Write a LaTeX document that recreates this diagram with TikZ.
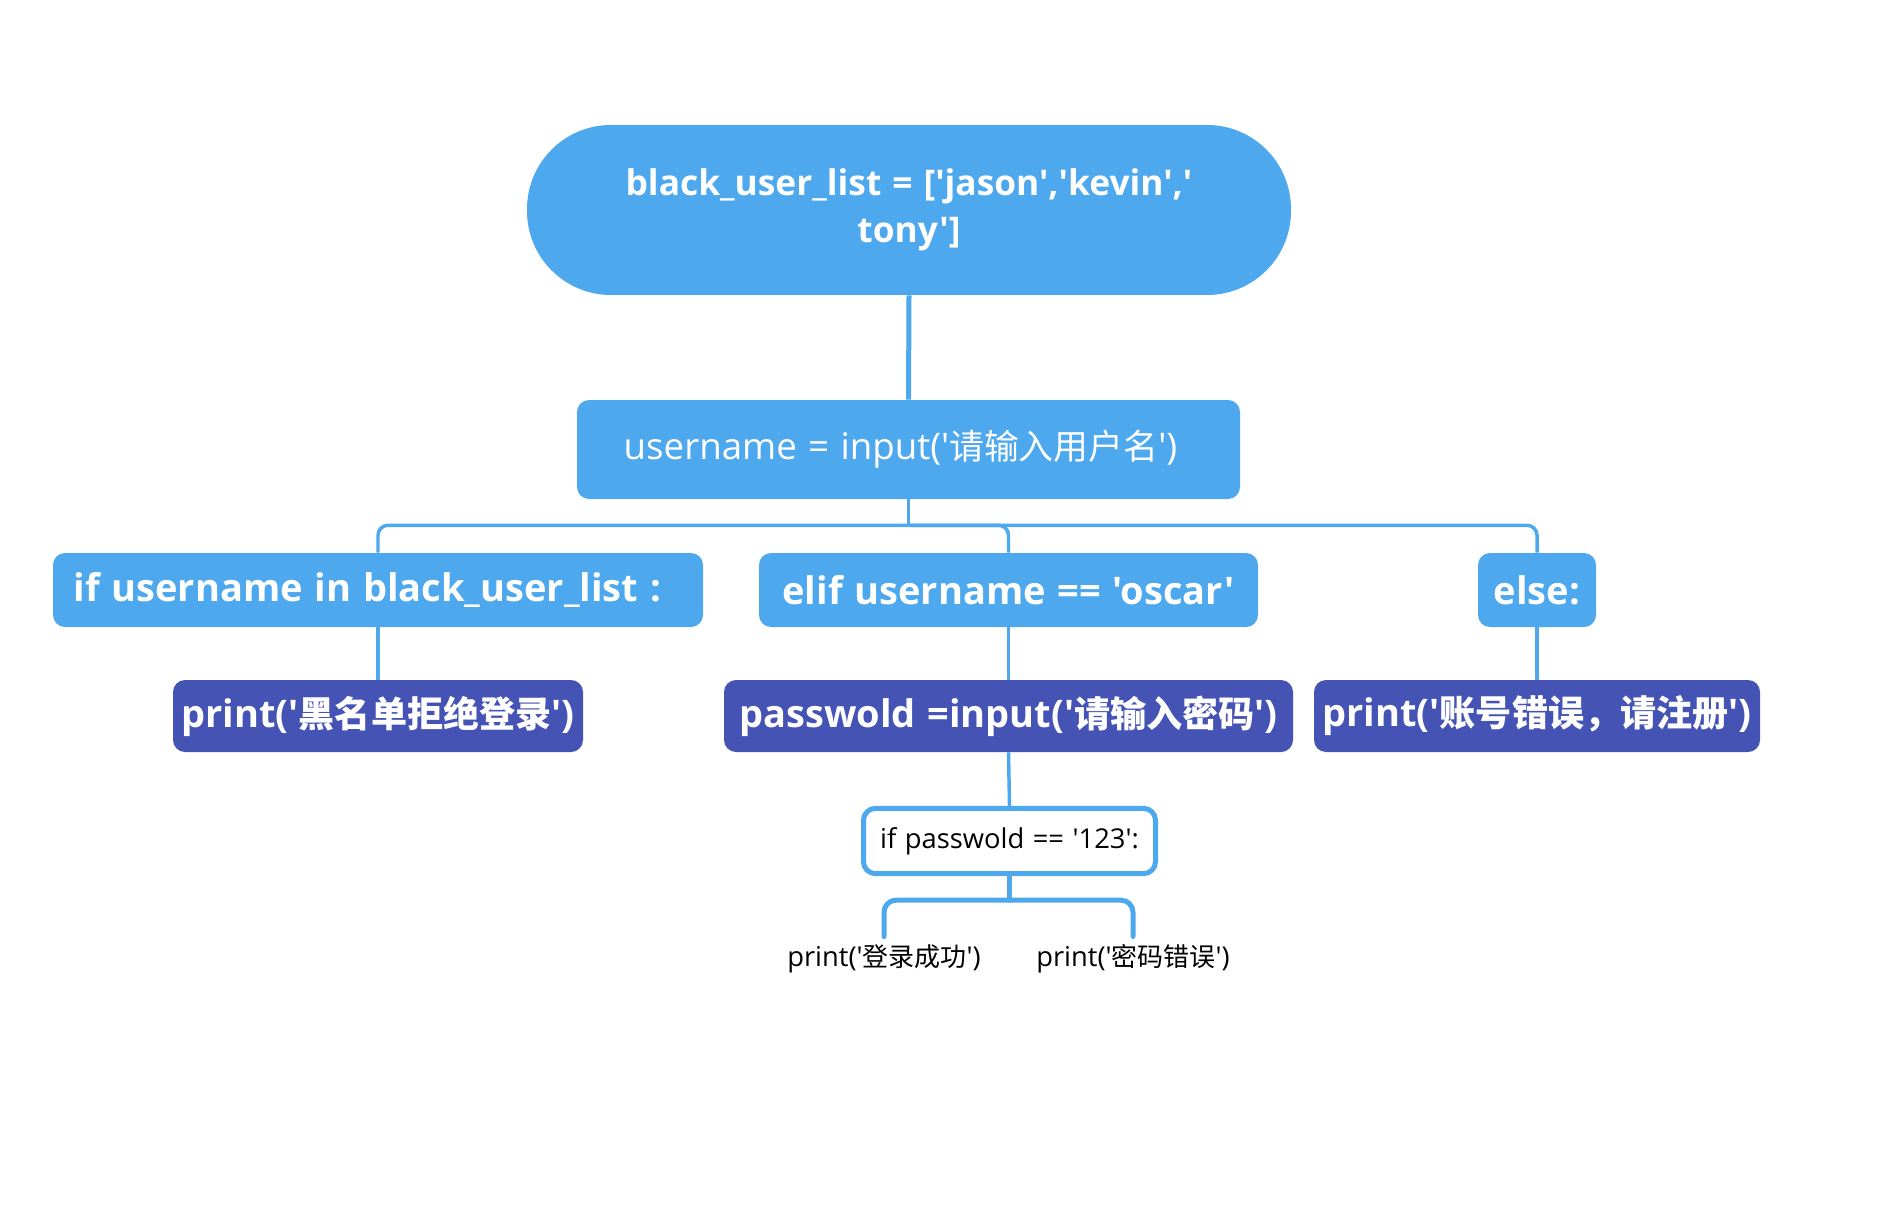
\documentclass[tikz,border=0pt]{standalone}
\usepackage{fontspec}
\setmainfont[Ligatures=TeXOff, WordSpace=1.2]{Open Sans}
\newfontfamily\cjkfont[Ligatures=TeXOff, Scale=0.95]{Noto Sans CJK SC}
\newcommand\zhtext[1]{{\cjkfont #1}}
\usetikzlibrary{positioning}
\definecolor{skyblue}{HTML}{4EA8EE}
\definecolor{inkblue}{HTML}{4453B4}
\tikzset{
  link/.style={draw=skyblue, line width=2.6pt},
  topic/.style={fill=skyblue, text=white, rounded corners=9pt, inner sep=0pt,
    font=\fontsize{28.5}{35}\selectfont\bfseries, align=center},
  action/.style={topic, fill=inkblue},
  check/.style={draw=skyblue, line width=3.75pt, fill=white, rounded corners=9pt,
    inner sep=0pt, font=\fontsize{20.5}{24}\selectfont},
  leaf/.style={inner sep=0pt, font=\fontsize{20.5}{24}\selectfont}
}
\begin{document}
\begin{tikzpicture}[x=0.75pt, y=-0.75pt]
\useasboundingbox (0,0) rectangle (1880,1230);

% Root and input
\node[topic, font=\fontsize{26.5}{35}\selectfont\bfseries, rounded corners=63pt,
  minimum width=573pt, minimum height=127.5pt] (root) at (909,210)
  {black\_user\_list = ['jason','kevin','\\tony']};
\node[topic, font=\fontsize{27.5}{35}\selectfont, minimum width=497.25pt,
  minimum height=74.25pt] (user) at (908.5,449.5)
  {username = input('\zhtext{请输入用户名}')\hspace{12pt}};
\draw[link, line width=3.75pt] (root.south) -- (user.north);

% Branches
\node[topic, minimum width=487.5pt, minimum height=55.5pt] (ifname) at (378,590)
  {if username in black\_user\_list\hspace{9pt}:\hspace{16pt}};
\node[topic, minimum width=374.25pt, minimum height=55.5pt] (elifname) at (1008.5,590)
  {elif username == 'oscar'};
\node[topic, minimum width=88.5pt, minimum height=55.5pt] (elsename) at (1537,590)
  {else:};
\coordinate (fork1) at ([yshift=-19.5pt]user.south);
\draw[link] (user.south) -- (fork1);
\foreach \n in {ifname, elifname, elsename}
  \draw[link, rounded corners=7.5pt] (fork1) -| (\n.north);

% Actions
\node[action, minimum width=307.5pt, minimum height=54pt] (blocked) at (378,716)
  {print('\zhtext{黑名单拒绝登录}')};
\node[action, minimum width=426.75pt, minimum height=54pt] (pwd) at (1008.5,716)
  {passwold =input('\zhtext{请输入密码}')};
\node[action, minimum width=334.5pt, minimum height=54pt] (signup) at (1537,716)
  {print('\zhtext{账号错误，请注册}')};
\draw[link] (ifname.south) -- (blocked.north);
\draw[link] (elifname.south) -- (pwd.north);
\draw[link] (elsename.south) -- (signup.north);

% Password check
\node[check, minimum width=219pt, minimum height=49pt] (pwcheck) at (1009.5,841)
  {if passwold == '123':};
\draw[link] (pwd.south) -- (pwcheck.north);
\node[leaf] (okay) at (884,959) {print('\zhtext{登录成功}')};
\node[leaf] (fail) at (1133,959) {print('\zhtext{密码错误}')};
\coordinate (fork2) at ([yshift=-18pt]pwcheck.south);
\draw[link, line width=3.75pt] (pwcheck.south) -- (fork2);
\foreach \n in {okay, fail}
  \draw[link, line width=3.75pt, rounded corners=9pt, line cap=round]
    (fork2) -| ([yshift=6pt]\n.north);
\end{tikzpicture}
\end{document}
